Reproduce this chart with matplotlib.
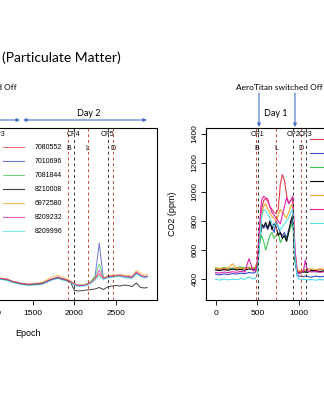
import matplotlib.pyplot as plt
from matplotlib.lines import Line2D

plt.rcParams['font.family'] = ['Liberation Sans', 'DejaVu Sans']

# sensors shown in both panels
sensors = ["7080552", "7010696", "7081844", "8210008", "6972580", "8209232", "8209996"]
colors = ["#E0404A", "#3B4CC0", "#3CC850", "#000000", "#F0A830", "#E020B0", "#50E0E8"]

# event markers (epochs)
cp_epochs = [505, 933, 1083, 1988, 2402]
cp_labels = ["CP1", "CP2", "CP3", "CP4", "CP5"]
meal_epochs = [488, 723, 1020, 1927, 2159, 2463]
meal_labels = ["B", "L", "D", "B", "L", "D"]

# left panel: particulate matter (visible part only)
pm_epoch = [1000, 1050, 1100, 1150, 1200, 1250, 1300, 1350, 1400, 1450,
            1500, 1550, 1600, 1650, 1700, 1750, 1800, 1850, 1900, 1950,
            2000, 2050, 2100, 2150, 2200, 2250, 2300, 2350, 2400, 2450,
            2500, 2550, 2600, 2650, 2700, 2750, 2800, 2850, 2880]
pm_7080552 = [22.5, 23, 21.5, 21.5, 20.5, 18.5, 18, 16.5, 16.5, 15.5, 16, 16.5, 17, 18.5, 20.5, 21.5, 23, 21.5, 20.5, 18.5,
              16, 15, 14.5, 16, 18, 22, 26, 22, 23.5, 24, 24.5, 25, 24, 23.5, 23, 28, 25, 23.5, 24]
pm_7010696 = [22, 22, 21, 21, 20, 18.5, 17, 16.5, 16, 15, 15.5, 16, 16.5, 18, 20, 21, 22, 21, 19.5, 18.5,
              15, 14, 14.5, 15, 17.5, 24, 57, 21, 23, 23.5, 24, 24, 23.5, 23, 22.5, 27, 24, 23, 23]
pm_7081844 = [21.5, 22.5, 21.5, 20.5, 20, 18, 17.5, 16, 16, 15.5, 15.5, 16, 16.5, 18, 19.5, 21.5, 22, 21, 20, 18,
              15.5, 15, 15, 16, 19, 23.5, 36, 22.5, 22.5, 23, 24, 24.5, 23, 22.5, 22, 26.5, 24, 22.5, 23]
pm_8210008 = [21.5, 22, 21, 20.5, 19.5, 18, 17, 16, 15.5, 15, 15.5, 15.5, 16, 17.5, 19.5, 21, 22, 20.5, 19.5, 18,
              9.5, 9, 9.5, 10, 10.5, 11, 12.5, 10.5, 13, 14, 14.5, 14, 15, 14.5, 13.5, 17, 12.5, 12, 12.5]
pm_6972580 = [22.5, 23, 22, 21.5, 20.5, 19, 18, 17, 16.5, 16, 16.5, 17, 17.5, 19.5, 22, 23.5, 24.5, 23, 21.5, 19.5,
              16, 15, 15, 16, 18, 21.5, 25, 22, 24, 24.5, 25, 25.5, 25, 24.5, 24.5, 29.5, 27, 25, 25.5]
pm_8209232 = [22, 22.5, 21.5, 21, 20, 18.5, 17.5, 16.5, 16, 15.5, 16, 16, 16.5, 18, 20, 21.5, 22.5, 21, 20, 18.5,
              15.5, 14.5, 14.5, 15.5, 17.5, 20.5, 30, 21.5, 23, 23.5, 24, 24.5, 23.5, 23, 22.5, 27.5, 24.5, 23, 23.5]
pm_8209996 = [21, 21.5, 20.5, 20, 19, 17.5, 16.5, 15.5, 15, 14.5, 15, 15, 15.5, 17, 19, 20.5, 21.5, 20, 19, 17.5,
              14.5, 13.5, 13.5, 14.5, 16.5, 20, 24, 20.5, 22, 22.5, 23, 23.5, 22.5, 22, 21.5, 26, 23.5, 22, 22.5]

# right panel: CO2 (visible part only)
co2_epoch = [0, 50, 100, 150, 200, 250, 300, 350, 400, 450,
             475, 500, 525, 550, 575, 600, 625, 650, 675, 700, 725,
             750, 775, 800, 825, 850, 875, 900, 925, 950, 975, 1000,
             1050, 1075, 1100, 1150, 1200, 1250, 1300, 1350]
co2_7080552 = [470, 465, 472, 468, 475, 470, 478, 472, 480, 475,
               478, 520, 700, 880, 940, 955, 935, 900, 880, 860, 850,
               880, 1050, 1120, 1080, 980, 920, 940, 960, 600, 470, 450,
               455, 460, 470, 460, 455, 465, 460, 462]
co2_7010696 = [432, 428, 435, 430, 438, 434, 440, 436, 445, 440,
               445, 480, 640, 760, 750, 770, 740, 780, 760, 720, 800,
               760, 720, 700, 720, 680, 740, 760, 850, 560, 430, 420,
               415, 420, 418, 412, 420, 415, 418, 416]
co2_7081844 = [478, 472, 480, 475, 470, 478, 482, 476, 480, 478,
               475, 500, 640, 700, 660, 600, 650, 700, 720, 680, 700,
               720, 650, 680, 700, 660, 720, 760, 780, 520, 450, 440,
               445, 448, 450, 455, 448, 452, 458, 455]
co2_8210008 = [462, 458, 465, 460, 468, 462, 466, 460, 470, 465,
               468, 490, 650, 780, 760, 790, 750, 800, 740, 780, 760,
               700, 720, 680, 700, 660, 720, 800, 840, 540, 450, 440,
               450, 448, 445, 460, 455, 450, 455, 452]
co2_6972580 = [475, 470, 478, 472, 505, 474, 476, 470, 480, 474,
               476, 510, 680, 830, 900, 920, 880, 860, 830, 820, 800,
               840, 880, 860, 840, 820, 860, 900, 920, 580, 460, 455,
               460, 465, 462, 470, 465, 470, 468, 466]
co2_8209232 = [445, 440, 448, 444, 450, 446, 452, 448, 540, 455,
               458, 520, 760, 940, 970, 960, 950, 900, 860, 840, 820,
               800, 780, 840, 900, 960, 920, 940, 970, 620, 450, 440,
               450, 530, 455, 448, 452, 446, 450, 448]
co2_8209996 = [398, 392, 400, 394, 398, 395, 402, 398, 415, 400,
               402, 430, 620, 820, 880, 870, 850, 820, 780, 760, 790,
               760, 740, 760, 780, 800, 820, 860, 880, 560, 420, 400,
               395, 398, 394, 396, 392, 396, 394, 395]

pm_series = [pm_7080552, pm_7010696, pm_7081844, pm_8210008, pm_6972580, pm_8209232, pm_8209996]
co2_series = [co2_7080552, co2_7010696, co2_7081844, co2_8210008, co2_6972580, co2_8209232, co2_8209996]

W, H = 324, 400
fig = plt.figure(figsize=(W / 100, H / 100), dpi=100)


def px_axes(x0, y0, x1, y1):
    return fig.add_axes([x0 / W, 1 - y1 / H, (x1 - x0) / W, (y1 - y0) / H])


def style(ax, ylim, yticks):
    ax.set_xlim(-115, 3000)
    ax.set_ylim(*ylim)
    ax.set_xticks([0, 500, 1000, 1500, 2000, 2500])
    ax.set_yticks(yticks)
    for s in ax.spines.values():
        s.set_linewidth(0.8)
    ax.tick_params(direction='out', length=3.5, width=0.6, labelsize=6, pad=4)
    ax.tick_params(axis='y', labelrotation=90, pad=2)
    for lab in ax.get_yticklabels():
        lab.set_va('center')
    ax.set_xlabel("Epoch", fontsize=6.5, labelpad=8)
    trans = ax.get_xaxis_transform()
    for e in meal_epochs:
        ax.axvline(e, color="#CC4A3A", lw=0.7, ls=(0, (3, 3)))
    for e in cp_epochs:
        ax.axvline(e, color="#333333", lw=0.7, ls=(0, (3, 3)))
    for e, t in zip(cp_epochs, cp_labels):
        ax.text(e, 0.962, t, transform=trans, ha='center', va='center', fontsize=5)
    for e, t in zip(meal_epochs, meal_labels):
        ax.text(e, 0.88, t, transform=trans, ha='center', va='center', fontsize=5)


# left panel (PM); its y axis lies outside the crop
ax_pm = px_axes(-100, 128, 157, 300)
for vals, c in zip(pm_series, colors):
    ax_pm.plot(pm_epoch, vals, color=c, lw=0.7, alpha=0.75)
style(ax_pm, (0, 172), [])

# right panel (CO2)
ax_co2 = px_axes(206, 128, 466, 300)
for vals, c in zip(co2_series, colors):
    ax_co2.plot(co2_epoch, vals, color=c, lw=0.8)
style(ax_co2, (255, 1441), [400, 600, 800, 1000, 1200, 1400])
ax_co2.set_ylabel("CO2 (ppm)", fontsize=6.5, labelpad=10)

for ax, alpha, anchor in [(ax_pm, 0.75, (0.401, 0.905)), (ax_co2, 1.0, (0.40, 0.95))]:
    handles = [Line2D([], [], color=c, lw=0.8, alpha=alpha) for c in colors]
    ax.legend(handles, sensors, loc='upper left', bbox_to_anchor=anchor, frameon=False,
              fontsize=5, borderpad=0, borderaxespad=0, labelspacing=1.0,
              handlelength=3.0, handletextpad=1.6)

# slide annotations, in pixel coordinates
ov = fig.add_axes([0, 0, 1, 1])
ov.set_xlim(0, W)
ov.set_ylim(H, 0)
ov.axis('off')
ov.patch.set_alpha(0)
blue = "#4472C4"
slide_font = ['Lato', 'DejaVu Sans']

ov.text(2, 58, "(Particulate Matter)", fontsize=10, ha='left', va='center', family=slide_font)
ov.text(17, 87, "AeroTitan switched Off", fontsize=6.0, ha='right', va='center', family=slide_font)
ov.text(279.5, 88, "AeroTitan switched Off", fontsize=6.0, ha='center', va='center', family=slide_font)
ov.text(88.5, 113, "Day 2", fontsize=6.5, ha='center', va='center', family=slide_font)
ov.text(276, 114, "Day 1", fontsize=6.5, ha='center', va='center', family=slide_font)

arrow_kw = dict(color=blue, lw=0.8, shrinkA=0, shrinkB=0, mutation_scale=5)
ov.annotate("", xy=(20, 120), xytext=(-100, 120), arrowprops=dict(arrowstyle='-|>', **arrow_kw))
ov.annotate("", xy=(147, 120), xytext=(23, 120), arrowprops=dict(arrowstyle='<|-|>', **arrow_kw))
ov.annotate("", xy=(326, 120.5), xytext=(208, 120.5), arrowprops=dict(arrowstyle='<|-|>', **arrow_kw))
ov.annotate("", xy=(259, 127), xytext=(259, 93), arrowprops=dict(arrowstyle='-|>', **arrow_kw))
ov.annotate("", xy=(295, 127), xytext=(295, 93), arrowprops=dict(arrowstyle='-|>', **arrow_kw))

fig.savefig("out.png", dpi=100)
